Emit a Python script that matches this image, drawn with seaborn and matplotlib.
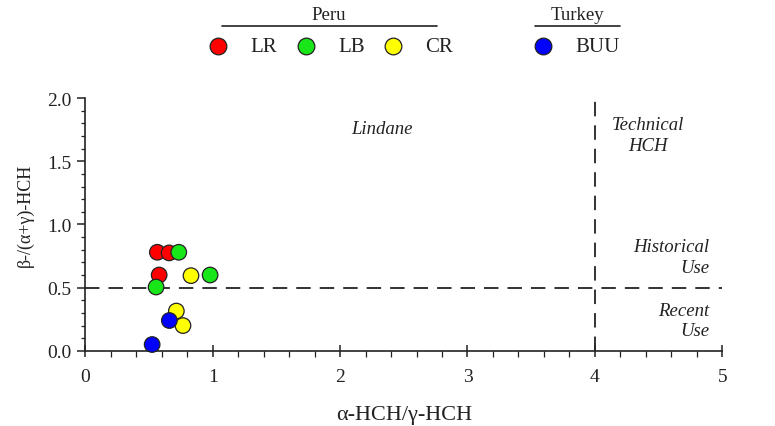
import matplotlib
matplotlib.use("Agg")
import matplotlib.pyplot as plt
from matplotlib.lines import Line2D
from matplotlib.ticker import MultipleLocator
import seaborn as sns
import pandas as pd

sns.set_theme(style="ticks")
plt.rcParams["font.family"] = ["Liberation Serif", "DejaVu Serif"]

# HCH isomer ratios per site
sites = ["LR", "LB", "CR", "BUU"]
colors = ["#FF0000", "#19E619", "#FFFF00", "#0000FF"]

lr_alpha_gamma = [0.566, 0.658, 0.58]
lr_beta = [0.78, 0.775, 0.60]
lb_alpha_gamma = [0.734, 0.98, 0.556]
lb_beta = [0.78, 0.60, 0.505]
cr_alpha_gamma = [0.83, 0.715, 0.767]
cr_beta = [0.595, 0.315, 0.20]
buu_alpha_gamma = [0.66, 0.525]
buu_beta = [0.24, 0.05]

df = pd.concat([
    pd.DataFrame({"ag": lr_alpha_gamma, "b": lr_beta, "site": "LR"}),
    pd.DataFrame({"ag": lb_alpha_gamma, "b": lb_beta, "site": "LB"}),
    pd.DataFrame({"ag": cr_alpha_gamma, "b": cr_beta, "site": "CR"}),
    pd.DataFrame({"ag": buu_alpha_gamma, "b": buu_beta, "site": "BUU"}),
], ignore_index=True)

fig = plt.figure(figsize=(7.75, 4.27), dpi=100)
ax = fig.add_axes([0.110, 0.176, 0.822, 0.592])

# threshold lines
ax.plot([0, 5], [0.5, 0.5], color="#222222", lw=1.3, ls=(0, (8, 5)), zorder=1)
ax.plot([4, 4], [0, 2], color="#222222", lw=1.3, ls=(0, (8, 5)), zorder=1)

sns.scatterplot(data=df, x="ag", y="b", hue="site", hue_order=sites,
                palette=dict(zip(sites, colors)), s=125, edgecolor="#222222",
                linewidth=0.9, legend=False, ax=ax, zorder=3, clip_on=False)

ax.set_xlim(0, 5)
ax.set_ylim(0, 2)
ax.xaxis.set_major_locator(MultipleLocator(1))
ax.xaxis.set_minor_locator(MultipleLocator(0.2))
ax.yaxis.set_major_locator(MultipleLocator(0.5))
ax.yaxis.set_minor_locator(MultipleLocator(0.1))
ax.yaxis.set_major_formatter(plt.FormatStrFormatter("%.1f"))
ax.tick_params(which="both", bottom=True, left=True, top=False, right=False)
ax.tick_params(axis="x", which="major", direction="inout", length=9, width=1.1,
               labelsize=14, pad=8, colors="#222222")
ax.tick_params(axis="x", which="minor", direction="out", length=4, width=0.9,
               colors="#222222")
ax.tick_params(axis="y", which="major", direction="out", length=6, width=1.1,
               labelsize=14, pad=4, colors="#222222")
ax.tick_params(axis="y", which="minor", direction="out", length=3, width=0.9,
               colors="#222222")
for side in ["top", "right"]:
    ax.spines[side].set_visible(False)
for side in ["left", "bottom"]:
    ax.spines[side].set_color("#222222")
    ax.spines[side].set_linewidth(1.2)

ax.set_xlabel("α-HCH/γ-HCH", fontsize=16, labelpad=14, color="#222222")
ax.set_ylabel("β-/(α+γ)-HCH", fontsize=13, labelpad=4, color="#222222")
ax.yaxis.set_label_coords(-0.081, 0.54)

# source regions
ann = dict(fontsize=13.5, style="italic", color="#222222", linespacing=1.3)
ax.text(2.33, 1.76, "Lindane", ha="center", va="center", **ann)
ax.text(4.42, 1.71, "Technical\nHCH", ha="center", va="center", **ann)
ax.text(4.90, 0.74, "Historical\nUse", ha="right", va="center", multialignment="right", **ann)
ax.text(4.90, 0.24, "Recent\nUse", ha="right", va="center", multialignment="right", **ann)

# grouped key above the plot
def px(x, y):
    return x / 775, 1 - y / 427

fig.add_artist(Line2D([px(222, 0)[0], px(437, 0)[0]], [px(0, 27)[1]] * 2,
                      color="#222222", lw=1.2))
fig.add_artist(Line2D([px(535, 0)[0], px(620, 0)[0]], [px(0, 27)[1]] * 2,
                      color="#222222", lw=1.2))
fig.text(*px(329, 16), "Peru", ha="center", va="center", fontsize=13.5, color="#222222")
fig.text(*px(577, 16), "Turkey", ha="center", va="center", fontsize=13.5, color="#222222")
key_x = [218, 306, 393, 543]
for name, col, kx in zip(sites, colors, key_x):
    mx, my = px(kx, 47)
    fig.add_artist(Line2D([mx], [my], marker="o", markersize=12, markerfacecolor=col,
                          markeredgecolor="#222222", markeredgewidth=0.9, ls="none"))
    fig.text(*px(kx + 32, 47), name, ha="left", va="center", fontsize=15, color="#222222")

fig.savefig("out.png", dpi=100, facecolor="white")
